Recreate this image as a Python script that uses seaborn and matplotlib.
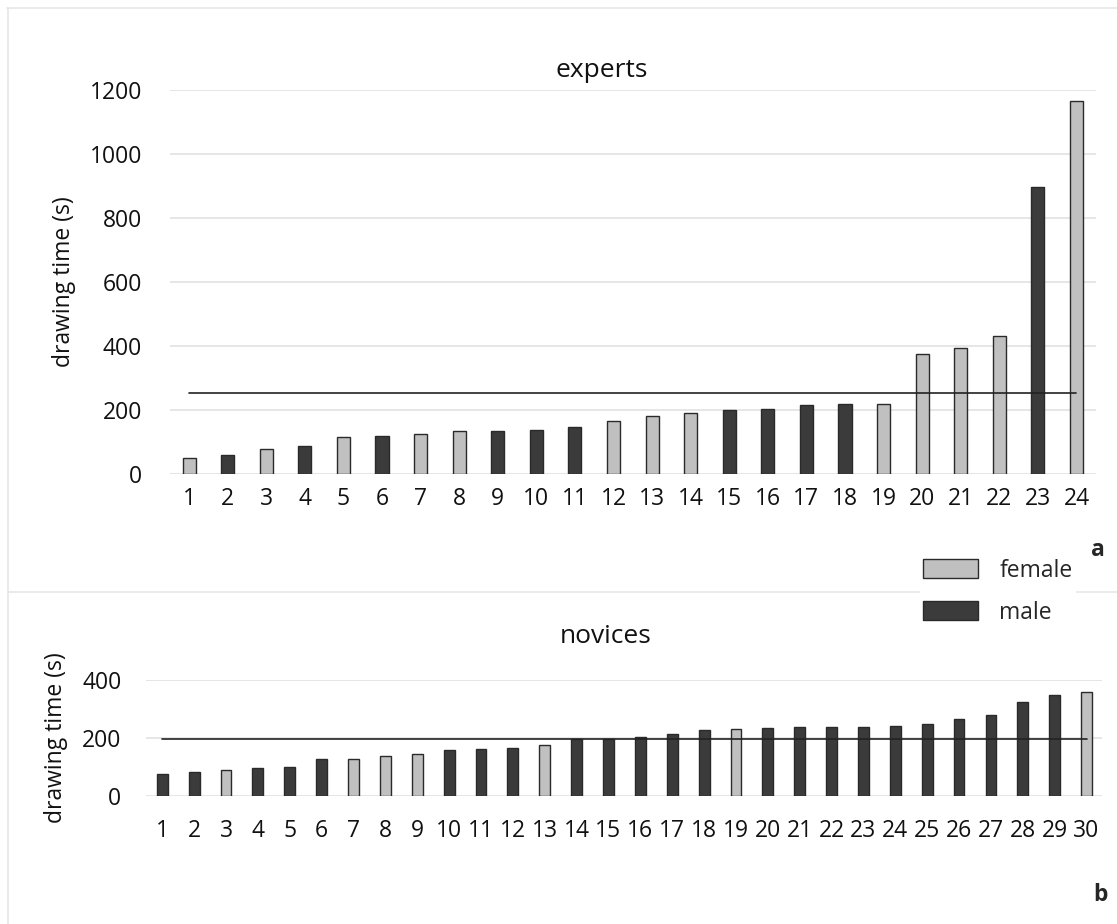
import numpy as np
import pandas as pd
import matplotlib
matplotlib.use("Agg")
import matplotlib.pyplot as plt
import seaborn as sns
from matplotlib.lines import Line2D
from matplotlib.patches import Patch

# experts drawing times (s), sorted
expert_times = [50, 58, 79, 86, 115, 119, 124, 133, 133, 136, 146, 167,
                181, 192, 201, 203, 216, 220, 220, 374, 393, 432, 898, 1166]
expert_sex = ["female", "male", "female", "male", "female", "male", "female", "female",
              "male", "male", "male", "female", "female", "female", "male", "male",
              "male", "male", "female", "female", "female", "female", "male", "female"]

# novices drawing times (s), sorted
novice_times = [76, 82, 88, 96, 99, 128, 127, 137, 143, 157, 162, 166, 174, 195, 196,
                203, 212, 226, 230, 234, 237, 237, 238, 242, 249, 265, 280, 325, 348, 359]
novice_sex = ["male", "male", "female", "male", "male", "male", "female", "female",
              "female", "male", "male", "male", "female", "male", "male", "male",
              "male", "male", "female", "male", "male", "male", "male", "male",
              "male", "male", "male", "male", "male", "female"]

colors = {"female": "#c0c0c0", "male": "#3b3b3b"}
FS = 16.5

sns.set_style("white")
plt.rcParams["font.family"] = ["Open Sans", "DejaVu Sans"]

fig = plt.figure(figsize=(11.17, 9.24), dpi=100)
ax1 = fig.add_axes([0.152, 0.487, 0.829, 0.4156])
ax2 = fig.add_axes([0.131, 0.139, 0.856, 0.125])


def draw(ax, times, sex, ymax, step, title, title_x, title_pad, xpad, ypad, lpad):
    labels = [str(i + 1) for i in range(len(times))]
    df = pd.DataFrame({"subject": labels, "time": times, "sex": sex})
    sns.barplot(data=df, x="subject", y="time", hue="sex", order=labels,
                hue_order=["female", "male"], palette=colors, dodge=False,
                width=0.34, edgecolor="#2a2a2a", linewidth=1.0, legend=False, ax=ax)
    m = np.mean(times)
    ax.plot([0, len(times) - 1], [m, m], color="#222222", lw=1.2, zorder=5)
    ax.set_xlim(-0.5, len(times) - 0.5)
    ax.set_ylim(0, ymax)
    ax.set_yticks(np.arange(0, ymax + 1, step))
    ax.yaxis.grid(True, color="#e2e2e2", lw=1.2)
    ax.set_axisbelow(True)
    sns.despine(ax=ax, left=True, bottom=True)
    ax.tick_params(axis="x", length=0, pad=xpad, labelsize=FS, colors="#111111")
    ax.tick_params(axis="y", length=0, pad=ypad, labelsize=FS, colors="#111111")
    ax.set_xlabel("")
    ax.set_ylabel("drawing time (s)", fontsize=FS, color="#111111", labelpad=lpad)
    ax.set_title(title, fontsize=19, pad=title_pad, color="#111111", x=title_x)


draw(ax1, expert_times, expert_sex, 1200, 200, "experts", 0.466, 9, 9, 20, 10)
draw(ax2, novice_times, novice_sex, 400, 200, "novices", 0.48, 27, 17, 18, 10)

# panel frames
fig.add_artist(Line2D([0.006, 1.0], [0.991, 0.991], color="#e6e6e6", lw=1.2))
fig.add_artist(Line2D([0.007, 0.007], [0.0, 0.991], color="#e6e6e6", lw=1.2))
fig.add_artist(Line2D([0.007, 1.0], [0.359, 0.359], color="#e6e6e6", lw=1.2))

fig.text(0.983, 0.405, "a", fontsize=FS, fontweight="bold", ha="center", va="center")
fig.text(0.985, 0.031, "b", fontsize=FS, fontweight="bold", ha="center", va="center")

handles = [Patch(facecolor=colors["female"], edgecolor="#2a2a2a", lw=1.0, label="female"),
           Patch(facecolor=colors["male"], edgecolor="#2a2a2a", lw=1.0, label="male")]
leg = fig.legend(handles=handles, loc="upper left", bbox_to_anchor=(0.824, 0.398),
                 frameon=True, fontsize=FS, handlelength=2.4, handleheight=0.9,
                 borderpad=0.1, labelspacing=0.8, handletextpad=0.95, borderaxespad=0)
leg.get_frame().set_edgecolor("white")
leg.get_frame().set_facecolor("white")
leg.get_frame().set_alpha(1)

fig.savefig("out.png", dpi=100)
